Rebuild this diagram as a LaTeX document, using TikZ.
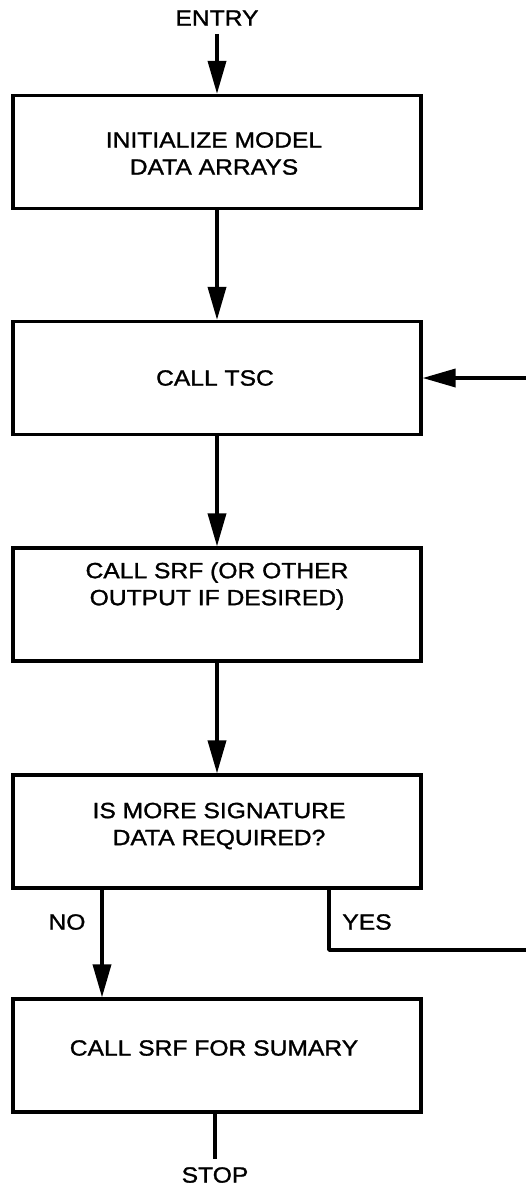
\documentclass[tikz,border=0pt]{standalone}
\usepackage{fontspec}
\setmainfont{Liberation Sans}[FakeStretch=1.12,FakeBold=1.3]
\usetikzlibrary{arrows.meta}
\begin{document}
\begin{tikzpicture}[x=1pt,y=-1pt,
  box/.style={draw, line width=3.2pt, minimum width=408pt, minimum height=113pt, inner sep=0pt},
  lbl/.style={font=\fontsize{22}{27}\selectfont, align=center, inner sep=0pt},
  flow/.style={line width=3.6pt, line join=round, -{Triangle[length=33pt,width=18pt]}},
  plain/.style={line width=3.6pt, line join=round}]
\useasboundingbox (0,0) rectangle (526,1189);
\clip (0,0) rectangle (526,1189);
% boxes
\node[box] (b1) at (217,152) {};
\node[box] (b2) at (217,378) {};
\node[box] (b3) at (217,604.5) {};
\node[box] (b4) at (217,831.5) {};
\node[box] (b5) at (217,1055.5) {};
% texts
\node[lbl] (t1) at (214,153.5) {INITIALIZE MODEL\\DATA ARRAYS};
\node[lbl] (t2) at (215,378) {CALL TSC};
\node[lbl] (t3) at (217,586) {CALL SRF (OR OTHER\\OUTPUT IF DESIRED)};
\node[lbl] (t4) at (219,826) {IS MORE SIGNATURE\\DATA REQUIRED?};
\node[lbl] (t5) at (214,1048) {CALL SRF FOR SUMARY};
\node[lbl] (entry) at (217,18) {ENTRY};
\node[lbl] (stop) at (215,1175) {STOP};
\node[lbl] (no) at (67,922) {NO};
\node[lbl] (yes) at (367,922) {YES};
\coordinate (fb) at (545,950);
% connectors
\draw[flow] ([yshift=-8pt]entry.south) -- (b1.north);
\draw[flow] (b1.south) -- (b2.north);
\draw[flow] (b2.south) -- (b3.north);
\draw[flow] (b3.south) -- (b4.north);
\draw[flow] ([xshift=-115pt]b4.south) -- ([xshift=-115pt]b5.north);
\draw[flow] ([xshift=112pt]b4.south) |- (fb) |- (b2.east);
\draw[plain] ([xshift=-2pt]b5.south) -- ([yshift=8pt]stop.north);
\end{tikzpicture}
\end{document}
